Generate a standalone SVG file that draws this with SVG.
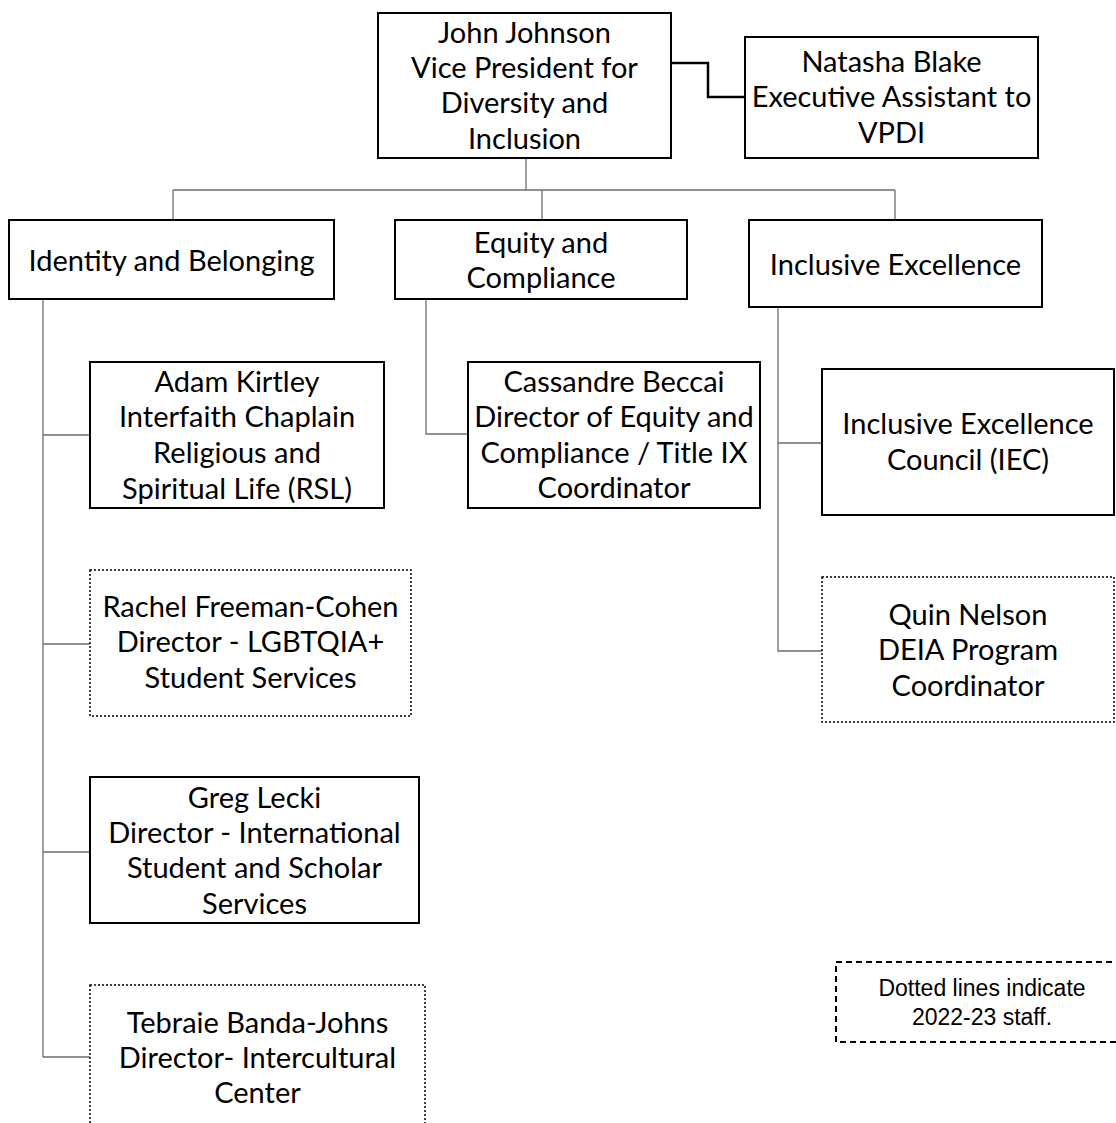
<svg xmlns="http://www.w3.org/2000/svg" width="1116" height="1123" viewBox="0 0 1116 1123">
<style>
.box{fill:#fff;stroke:#000;stroke-width:2}
.dot{fill:#fff;stroke:#000;stroke-width:1.5;stroke-dasharray:2 2}
.leg{fill:#fff;stroke:#000;stroke-width:2;stroke-dasharray:6 4}
.c{fill:none;stroke:#6e6e6e;stroke-width:1.3}
.ck{fill:none;stroke:#000;stroke-width:2.5}
text{font-family:Lato,"Open Sans",sans-serif;font-size:29px;fill:#000;text-anchor:middle}
.lt{font-family:"Liberation Sans",Arial,sans-serif;font-size:23px}
</style>
<rect width="1116" height="1123" fill="#fff"/>
<g id="connectors">
<path class="ck" d="M671,63 H708 V97 H745"/>
<path class="c" d="M526,158 V190 M173,190 H895 M173,190 V220 M542,190 V220 M895,190 V220"/>
<path class="c" d="M43,299 V1057 M43,435 H90 M43,644 H90 M43,852 H90 M43,1057 H90"/>
<path class="c" d="M426,299 V434 H468"/>
<path class="c" d="M778,307 V651 H822 M778,443 H822"/>
</g>
<g id="vp"><rect class="box" x="378" y="13" width="293" height="145"/>
<text x="524.5" y="43">John Johnson</text><text x="524.5" y="78">Vice President for</text><text x="524.5" y="113">Diversity and</text><text x="524.5" y="149">Inclusion</text></g>
<g id="natasha"><rect class="box" x="745" y="37" width="293" height="121"/>
<text x="891.5" y="72">Natasha Blake</text><text x="891.5" y="107">Executive Assistant to</text><text x="891.5" y="143">VPDI</text></g>
<g id="identity"><rect class="box" x="9" y="220" width="325" height="79"/>
<text x="171.5" y="271">Identity and Belonging</text></g>
<g id="equity"><rect class="box" x="395" y="220" width="292" height="79"/>
<text x="541" y="253">Equity and</text><text x="541" y="288">Compliance</text></g>
<g id="inclusive"><rect class="box" x="749" y="220" width="293" height="87"/>
<text x="895.5" y="275">Inclusive Excellence</text></g>
<g id="adam"><rect class="box" x="90" y="362" width="294" height="146"/>
<text x="237" y="392">Adam Kirtley</text><text x="237" y="427">Interfaith Chaplain</text><text x="237" y="463">Religious and</text><text x="237" y="499">Spiritual Life (RSL)</text></g>
<g id="cassandre"><rect class="box" x="468" y="362" width="292" height="146"/>
<text x="614" y="392">Cassandre Beccai</text><text x="614" y="427">Director of Equity and</text><text x="614" y="463">Compliance / Title IX</text><text x="614" y="498">Coordinator</text></g>
<g id="iec"><rect class="box" x="822" y="369" width="292" height="146"/>
<text x="968" y="434">Inclusive Excellence</text><text x="968" y="470">Council (IEC)</text></g>
<g id="rachel"><rect class="dot" x="90" y="570" width="321" height="146"/>
<text x="250.5" y="617">Rachel Freeman-Cohen</text><text x="250.5" y="652">Director - LGBTQIA+</text><text x="250.5" y="688">Student Services</text></g>
<g id="quin"><rect class="dot" x="822" y="577" width="292" height="145"/>
<text x="968" y="625">Quin Nelson</text><text x="968" y="660">DEIA Program</text><text x="968" y="696">Coordinator</text></g>
<g id="greg"><rect class="box" x="90" y="777" width="329" height="146"/>
<text x="254.5" y="808">Greg Lecki</text><text x="254.5" y="843">Director - International</text><text x="254.5" y="878">Student and Scholar</text><text x="254.5" y="914">Services</text></g>
<g id="tebraie"><rect class="dot" x="90" y="985" width="335" height="160"/>
<text x="257.5" y="1033">Tebraie Banda-Johns</text><text x="257.5" y="1068">Director- Intercultural</text><text x="257.5" y="1103">Center</text></g>
<g id="legend"><rect class="leg" x="836" y="962" width="290" height="80"/>
<text class="lt" x="982" y="996">Dotted lines indicate</text><text class="lt" x="982" y="1025">2022-23 staff.</text></g>
</svg>
